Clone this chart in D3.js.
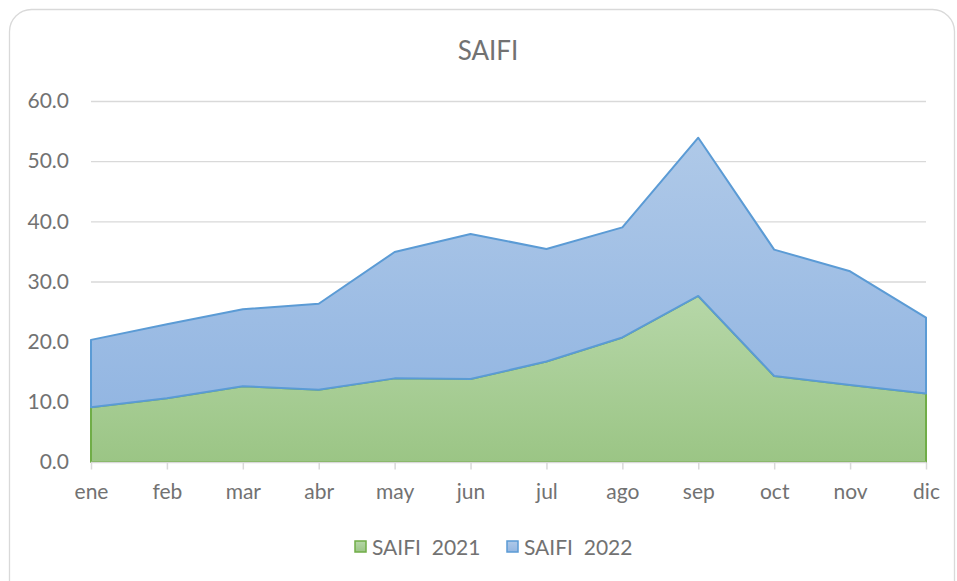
<!DOCTYPE html>
<html><head><meta charset="utf-8">
<script src="https://cdn.jsdelivr.net/npm/d3@7"></script>
<style>body{margin:0;background:#fff}svg text{font-family:Lato,"Open Sans",sans-serif;fill:#727272}</style>
</head><body><svg id="c" width="957" height="581"></svg>
<script>
const months = ["ene","feb","mar","abr","may","jun","jul","ago","sep","oct","nov","dic"];
const saifi2021 = [9.1,10.6,12.6,12.0,13.9,13.8,16.7,20.7,27.6,14.3,12.8,11.4];
const saifi2022 = [11.2,12.3,12.8,14.3,21.0,24.1,18.7,18.3,26.3,21.0,18.9,12.6];
const seriesNames = ["SAIFI  2021","SAIFI  2022"];
const yTicks = [0,10,20,30,40,50,60];
const title = "SAIFI";

const svg = d3.select("#c");
svg.append("rect").attr("x",9.5).attr("y",9.5).attr("width",945).attr("height",600)
  .attr("rx",22).attr("fill","#fff").attr("stroke","#d9d9d9").attr("stroke-width",1.3);

const defs = svg.append("defs");
function grad(id,c1,c2){
  const g = defs.append("linearGradient").attr("id",id).attr("x1",0).attr("y1",0).attr("x2",0).attr("y2",1);
  g.append("stop").attr("offset","0%").attr("stop-color",c1);
  g.append("stop").attr("offset","100%").attr("stop-color",c2);
}
grad("gGreen","#b6d7a8","#9bc585");
grad("gBlue","#afc9e8","#93b6e2");

const x = d3.scalePoint().domain(months).range([91,926]);
const y = d3.scaleLinear().domain([0,60]).range([462,101]);

svg.append("text").attr("x",488).attr("y",60).attr("text-anchor","middle")
  .style("font-size","26px").attr("fill","#7a7a7a").text(title);

// gridlines
svg.append("g").selectAll("line").data(yTicks.filter(d=>d>0)).join("line")
  .attr("x1",91).attr("x2",926).attr("y1",d=>y(d)+0.5).attr("y2",d=>y(d)+0.5)
  .attr("stroke","#d9d9d9").attr("stroke-width",1.3);

const data = months.map((m,i)=>({m, a:saifi2021[i], b:saifi2022[i]}));
const stacked = d3.stack().keys(["a","b"])(data);
const area = d3.area().x(d=>x(d.data.m)).y0(d=>y(d[0])).y1(d=>y(d[1]));
const fills = ["url(#gGreen)","url(#gBlue)"];
const strokes = ["#70ad47","#5b9bd5"];
svg.append("g").selectAll("path").data(stacked).join("path")
  .attr("d",area).attr("fill",(d,i)=>fills[i]).attr("stroke",(d,i)=>strokes[i])
  .attr("stroke-width",2).attr("stroke-linejoin","round");

// x axis
const xa = svg.append("g").attr("transform","translate(0,462.5)")
  .call(d3.axisBottom(x).tickSize(7).tickPadding(15));
xa.select(".domain").attr("stroke","#d9d9d9").attr("stroke-width",1.5).attr("d","M91,0H926");
xa.selectAll(".tick line").attr("stroke","#d9d9d9").attr("stroke-width",1.5);
xa.selectAll(".tick text").style("font-size","21px").attr("fill","#727272");

// y axis labels
const ya = svg.append("g").attr("transform","translate(69,0)")
  .call(d3.axisLeft(y).tickValues(yTicks).tickFormat(d3.format(".1f")).tickSize(0).tickPadding(0));
ya.select(".domain").remove();
ya.selectAll(".tick text").style("font-size","21px").attr("fill","#727272");

// legend
const leg = svg.append("g");
const legX = [355,507];
seriesNames.forEach((n,i)=>{
  leg.append("rect").attr("x",legX[i]).attr("y",541).attr("width",11).attr("height",11)
    .attr("fill",fills[i]).attr("stroke",strokes[i]).attr("stroke-width",1.5);
  leg.append("text").attr("x",legX[i]+17).attr("y",555).style("font-size","21px")
    .attr("xml:space","preserve").text(n);
});
</script></body></html>
